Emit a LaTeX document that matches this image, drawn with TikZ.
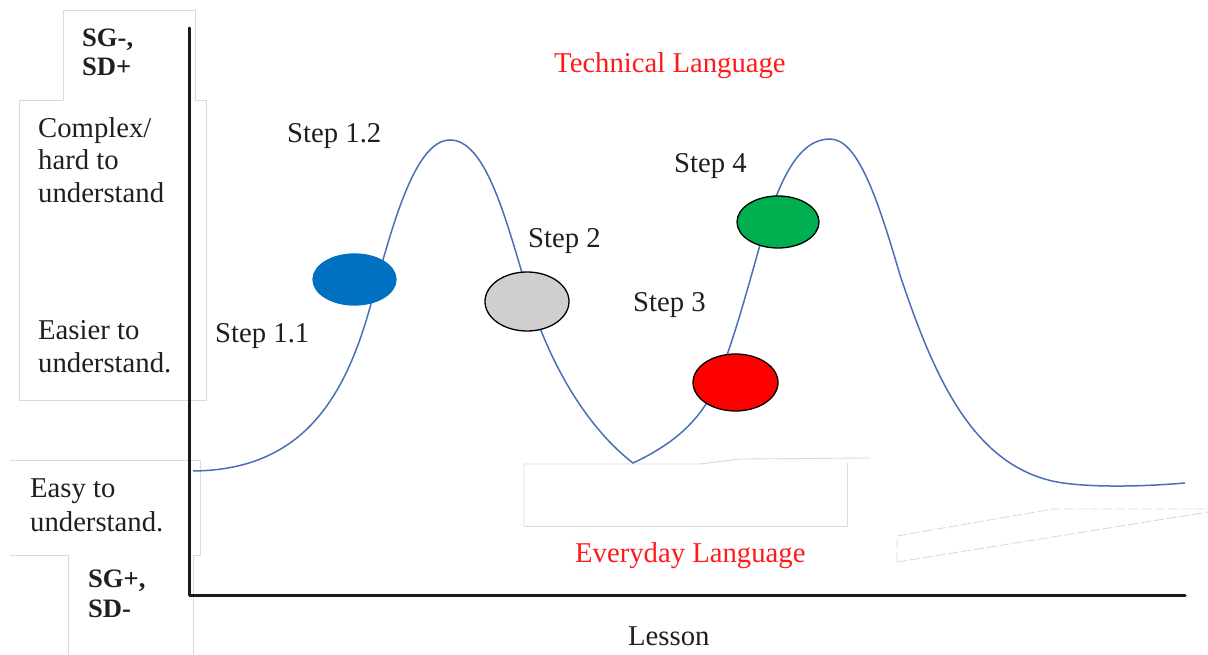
\documentclass[tikz,border=0pt]{standalone}
\usepackage{fontspec}
\setmainfont{Liberation Serif}
\usetikzlibrary{shapes.geometric}
\definecolor{curveblue}{HTML}{4A6FB5}
\definecolor{dotblue}{HTML}{0070C0}
\definecolor{dotgray}{HTML}{D0CECE}
\definecolor{dotgreen}{HTML}{00B050}
\definecolor{dotred}{HTML}{FF0000}
\definecolor{framegray}{HTML}{DADADA}
\definecolor{axisblack}{HTML}{1A1A1A}
\definecolor{labelred}{HTML}{FF1A1A}
\tikzset{
  txt/.style={anchor=base west, inner sep=0pt, text=black!88,
    font=\fontsize{28.7}{33}\selectfont},
  boldtxt/.style={txt, font=\fontsize{26.6}{30}\selectfont\bfseries},
  redtxt/.style={txt, text=labelred},
  frame/.style={draw=framegray, line width=0.9pt},
  dashframe/.style={frame, dash pattern=on 10pt off 3pt},
  curve/.style={draw=curveblue, line width=1.5pt},
  axis/.style={draw=axisblack, line width=3pt, line join=round, line cap=round},
  dot/.style={ellipse, inner sep=0pt, line width=1.3pt, draw=black},
}
\begin{document}
\begin{tikzpicture}[x=1pt, y=-1pt]
\useasboundingbox (0,0) rectangle (1208,655);

% faint text-box outlines
\draw[frame] (63,100) -- (63,10) -- (195,10) -- (195,100);
\draw[frame] (63,100) -- (19,100) -- (19,400) -- (206,400) -- (206,100) -- (195,100);
\draw[frame] (10,460) -- (200,460) -- (200,555) -- (193,555);
\draw[frame] (10,555) -- (68,555) -- (68,655);
\draw[frame] (193,555) -- (193,655);
\draw[frame] (524,526) -- (524,464) -- (700,464) -- (740,459) -- (870,458);
\draw[frame] (524,526) -- (847,526) -- (847,463);
\draw[dashframe] (897,562) -- (897,536) -- (1053,509) -- (1208,509);
\draw[dashframe] (897,562) -- (1208,512);

% side labels
\node[boldtxt] (sgm) at (82,47) {SG-,};
\node[boldtxt] (sdp) at (82,76) {SD+};
\node[txt] (cx1) at (38,138) {Complex/};
\node[txt] (cx2) at (38,170) {hard to};
\node[txt] (cx3) at (38,203) {understand};
\node[txt] (ez1) at (38,339) {Easier to};
\node[txt] (ez2) at (38,372) {understand.};
\node[txt] (ey1) at (30,497) {Easy to};
\node[txt] (ey2) at (30,531) {understand.};
\node[boldtxt] (sgp) at (88,587) {SG+,};
\node[boldtxt] (sdm) at (88,617) {SD-};

% language curve: two bell-shaped peaks with a sharp dip between them
\draw[curve] (193,471)
  .. controls (300,470) and (345,402) .. (372,300)
  .. controls (392,226) and (415,140) .. (450,140)
  .. controls (485,140) and (505,215) .. (527,290)
  .. controls (550,368) and (590,430) .. (633,463)
  .. controls (665,448) and (701,425) .. (718,380)
  .. controls (735,335) and (745,298) .. (760,245)
  .. controls (780,175) and (800,139) .. (830,139)
  .. controls (858,139) and (878,200) .. (900,275)
  .. controls (935,380) and (975,470) .. (1063,483)
  .. controls (1100,488) and (1150,486) .. (1185,483);

% axes
\coordinate (top) at (189,28);
\coordinate (origin) at (189,595);
\coordinate (right) at (1185,595);
\draw[axis] (top) -- (origin) -- (right);

% steps
\node[dot, fill=dotblue, draw=dotblue, minimum width=83pt, minimum height=51pt] (s11) at (354.5,279.5) {};
\node[dot, fill=dotgray, minimum width=84pt, minimum height=59pt] (s2) at (527,301.5) {};
\node[dot, fill=dotred, minimum width=85pt, minimum height=57pt] (s3) at (735.5,382.5) {};
\node[dot, fill=dotgreen, minimum width=82pt, minimum height=52pt] (s4) at (778,222) {};

\node[txt] (l12) at (287,143) {Step 1.2};
\node[txt] (l11) at (215,342) {Step 1.1};
\node[txt] (l2) at (528,248) {Step 2};
\node[txt] (l3) at (633,312) {Step 3};
\node[txt] (l4) at (674,173) {Step 4};

\node[redtxt] (tech) at (554,73) {Technical Language};
\node[redtxt] (every) at (575,562) {Everyday Language};
\node[txt] (lesson) at (628,645) {Lesson};
\end{tikzpicture}
\end{document}
